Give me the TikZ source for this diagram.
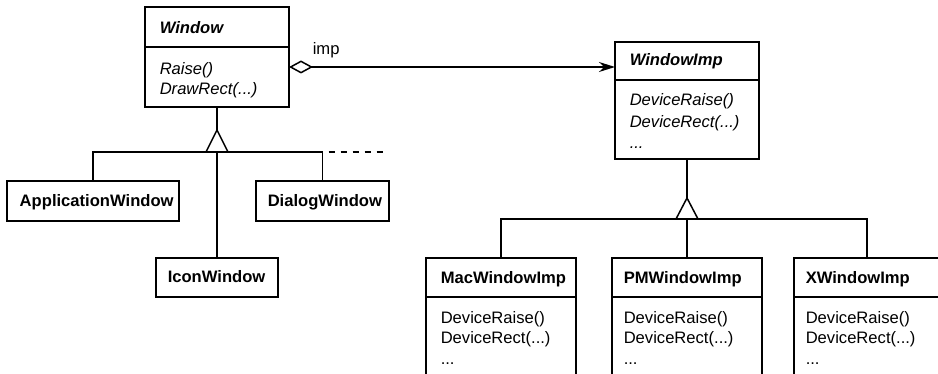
\documentclass[tikz,border=0pt]{standalone}
\usepackage{fontspec}
\setmainfont{Liberation Sans}
\usetikzlibrary{arrows.meta,calc}
\newcommand\dfs{\fontsize{16.6pt}{20pt}\selectfont}
\begin{document}
\begin{tikzpicture}[x=1pt,y=-1pt,line width=1.5pt,
  box/.style={draw, rectangle, anchor=north west, inner sep=0pt, outer sep=0pt},
  ttl/.style={anchor=base west, inner sep=0pt, font=\dfs\bfseries},
  attl/.style={anchor=base west, inner sep=0pt, font=\dfs\bfseries\itshape},
  op/.style={anchor=base west, inner sep=0pt, font=\dfs},
  aop/.style={anchor=base west, inner sep=0pt, font=\dfs\itshape},
  extdash/.style={dash pattern=on 6pt off 6pt, dash phase=6pt},
  agg/.style={{Diamond[open,length=24pt,width=13pt]}-{Stealth[length=16pt,width=10pt]}}
]
\useasboundingbox (0,0) rectangle (938,374);
\clip (0,0) rectangle (938,374);

% ---------- Window ----------
\node[box, minimum width=144pt, minimum height=100pt] (win) at (145,7) {};
\draw ([yshift=-40pt]win.north west) -- ([yshift=-40pt]win.north east);
\node[attl] (winT) at ([xshift=14pt,yshift=-27pt]win.north west) {Window};
\node[aop] (winA) at ([xshift=14pt,yshift=-68pt]win.north west) {Raise()};
\node[aop] (winB) at ([xshift=14pt,yshift=-88pt]win.north west) {DrawRect(...)};

% ---------- WindowImp ----------
\node[box, minimum width=144pt, minimum height=117pt] (wimp) at (615,42) {};
\draw ([yshift=-38pt]wimp.north west) -- ([yshift=-38pt]wimp.north east);
\node[attl] (wimpT) at ([xshift=14pt,yshift=-24pt]wimp.north west) {WindowImp};
\node[aop] (wimpA) at ([xshift=14pt,yshift=-64pt]wimp.north west) {DeviceRaise()};
\node[aop] (wimpB) at ([xshift=14pt,yshift=-86pt]wimp.north west) {DeviceRect(...)};
\node[aop] (wimpC) at ([xshift=14pt,yshift=-107pt]wimp.north west) {...};

% ---------- aggregation ----------
\coordinate (aggS) at ([yshift=-60pt]win.north east);
\draw[agg] (aggS) -- (aggS -| wimp.west);
\node[op] (imp) at ([xshift=23pt,yshift=12pt]aggS) {imp};

% ---------- Window subclasses ----------
\node[box, minimum width=172pt, minimum height=40pt] (app) at (7,181) {};
\node[ttl] (appT) at ([xshift=12pt,yshift=-26pt]app.north west) {ApplicationWindow};
\node[box, minimum width=133pt, minimum height=40pt] (dlg) at (256,181) {};
\node[ttl] (dlgT) at ([xshift=11pt,yshift=-26pt]dlg.north west) {DialogWindow};
\node[box, minimum width=122pt, minimum height=39pt] (icon) at (156,258) {};
\node[ttl] (iconT) at ([xshift=11pt,yshift=-25pt]icon.north west) {IconWindow};

\coordinate (ap1) at (217,130);
\coordinate (tb1) at (217,152);
\coordinate (dashend) at (384,152);
\draw (win.south) -- (ap1);
\draw (app.north) |- (tb1) -| (dlg.north);
\draw (tb1) -- (icon.north);
\draw[extdash] (tb1 -| dlg.north) -- (dashend);
\draw[fill=white] (ap1) -- ++(-11,22) -- ++(22,0) -- cycle;

% ---------- WindowImp subclasses ----------
\node[box, minimum width=150pt, minimum height=140pt] (mac) at (426,258) {};
\draw ([yshift=-39pt]mac.north west) -- ([yshift=-39pt]mac.north east);
\node[ttl] (macT) at ([xshift=14pt,yshift=-26pt]mac.north west) {MacWindowImp};
\node[op] (macA) at ([xshift=14pt,yshift=-66pt]mac.north west) {DeviceRaise()};
\node[op] (macB) at ([xshift=14pt,yshift=-86pt]mac.north west) {DeviceRect(...)};
\node[op] (macC) at ([xshift=14pt,yshift=-106pt]mac.north west) {...};

\node[box, minimum width=150pt, minimum height=140pt] (pm) at (612,258) {};
\draw ([yshift=-39pt]pm.north west) -- ([yshift=-39pt]pm.north east);
\node[ttl] (pmT) at ([xshift=11pt,yshift=-26pt]pm.north west) {PMWindowImp};
\node[op] (pmA) at ([xshift=11pt,yshift=-66pt]pm.north west) {DeviceRaise()};
\node[op] (pmB) at ([xshift=11pt,yshift=-86pt]pm.north west) {DeviceRect(...)};
\node[op] (pmC) at ([xshift=11pt,yshift=-106pt]pm.north west) {...};

\node[box, minimum width=146pt, minimum height=140pt] (xw) at (794,258) {};
\draw ([yshift=-39pt]xw.north west) -- ([yshift=-39pt]xw.north east);
\node[ttl] (xwT) at ([xshift=11pt,yshift=-26pt]xw.north west) {XWindowImp};
\node[op] (xwA) at ([xshift=11pt,yshift=-66pt]xw.north west) {DeviceRaise()};
\node[op] (xwB) at ([xshift=11pt,yshift=-86pt]xw.north west) {DeviceRect(...)};
\node[op] (xwC) at ([xshift=11pt,yshift=-106pt]xw.north west) {...};

\coordinate (ap2) at (687,198);
\coordinate (tb2) at (687,219);
\draw (wimp.south) -- (ap2);
\draw (mac.north) |- (tb2) -| (xw.north);
\draw (tb2) -- (pm.north);
\draw[fill=white] (ap2) -- ++(-11,21) -- ++(22,0) -- cycle;
\end{tikzpicture}
\end{document}
